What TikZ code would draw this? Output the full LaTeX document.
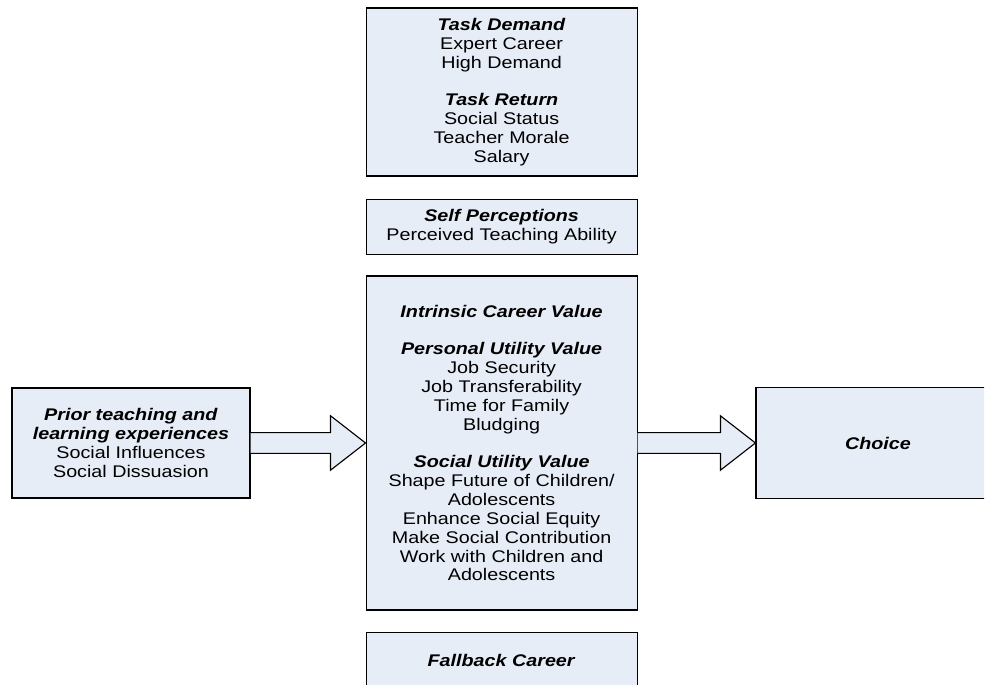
\documentclass[tikz,border=0pt]{standalone}
\usepackage{fontspec}
\setmainfont{Liberation Sans}[FakeStretch=1.17]
\definecolor{boxfill}{RGB}{231,237,247}
\newcommand{\boxhead}[1]{\textbf{\textit{#1}}}
\newcommand{\blockarrow}[2]{%
  \draw[arrowline] ([yshift=0.26cm]#1) -- ([xshift=-0.875cm,yshift=0.26cm]#2)
    -- ([xshift=-0.875cm,yshift=0.68cm]#2) -- (#2)
    -- ([xshift=-0.875cm,yshift=-0.68cm]#2) -- ([xshift=-0.875cm,yshift=-0.26cm]#2)
    -- ([yshift=-0.26cm]#1);}

\begin{document}
\begin{tikzpicture}[every node/.style={draw=black, line width=0.8pt, fill=boxfill, align=center, font=\fontsize{12}{13.4}\selectfont}, arrowline/.style={draw=black, line width=0.8pt, fill=boxfill}]
			\useasboundingbox (0,0) rectangle (24.65,17.125);
			\clip (0,0) rectangle (24.6,17.125);
			\node[minimum width=6.775cm, minimum height=4.2cm] (task) at (12.54,14.825) {\boxhead{Task Demand}\\ Expert Career\\ High Demand\\[13.4pt] \boxhead{Task Return}\\ Social Status\\ Teacher Morale\\ Salary};
			\node[minimum width=6.775cm, minimum height=1.375cm] (self) at (12.54,11.46) {\boxhead{Self Perceptions}\\ Perceived Teaching Ability};
			\node[minimum width=6.775cm, minimum height=8.35cm] (values) at (12.54,6.05) {\boxhead{Intrinsic Career Value}\\[13.4pt] \boxhead{Personal Utility Value}\\ Job Security\\ Job Transferability\\ Time for Family\\ Bludging\\[13.4pt] \boxhead{Social Utility Value}\\ Shape Future of Children/\\ Adolescents\\ Enhance Social Equity\\ Make Social Contribution\\ Work with Children and\\ Adolescents};
			\node[minimum width=6.775cm, minimum height=1.4cm] (fallback) at (12.54,0.62) {\boxhead{Fallback Career}};
			\node[minimum width=5.95cm, minimum height=2.75cm] (prior) at (3.275,6.05) {\boxhead{Prior teaching and}\\ \boxhead{learning experiences}\\ Social Influences\\ Social Dissuasion};
			\node[minimum width=6.1cm, minimum height=2.775cm] (choice) at (21.95,6.05) {\boxhead{Choice}};
			\blockarrow{prior.east}{values.west}
			\blockarrow{values.east}{choice.west}
		\end{tikzpicture}
\end{document}
